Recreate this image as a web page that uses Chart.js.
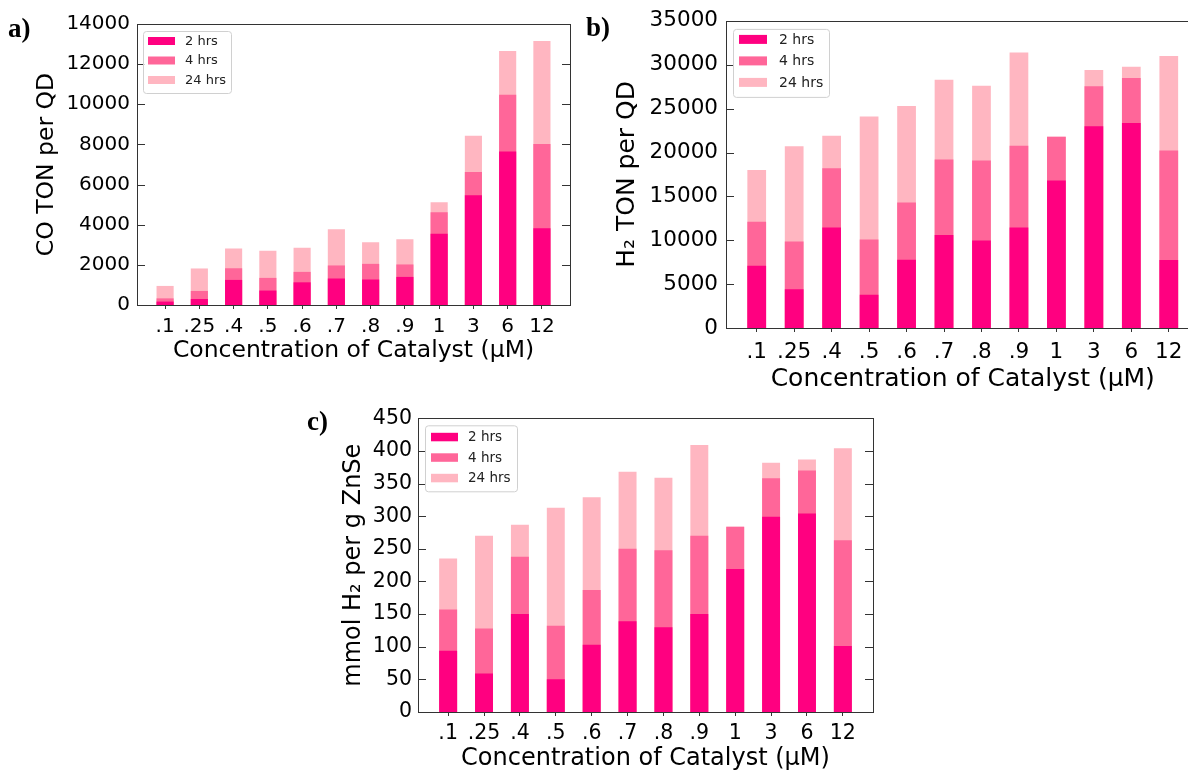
<!DOCTYPE html>
<html>
<head>
<meta charset="utf-8">
<script src="https://cdn.jsdelivr.net/npm/chart.js"></script>
<style>
  body { margin: 0; background: #fff; overflow: hidden; }
  #wrap { position: relative; width: 1188px; height: 773px; overflow: hidden; }
  #wrap canvas { position: absolute; }
  .tag { position: absolute; font: bold 27px "Liberation Serif", "Times New Roman", serif; line-height: 1; color: #000; }
</style>
</head>
<body>
<div id="wrap">
  <canvas id="chartA" width="590" height="365" style="left:0;top:0"></canvas>
  <canvas id="chartB" width="624" height="394" style="left:580px;top:0"></canvas>
  <canvas id="chartC" width="600" height="373" style="left:300px;top:400px"></canvas>
  <div class="tag" style="left:8px;top:15px">a)</div>
  <div class="tag" style="left:586px;top:14px">b)</div>
  <div class="tag" style="left:307px;top:408px">c)</div>
</div>
<script>
const concentrations = ['.1', '.25', '.4', '.5', '.6', '.7', '.8', '.9', '1', '3', '6', '12'];
const seriesNames = ['2 hrs', '4 hrs', '24 hrs'];
const seriesColors = ['#ff0080', '#ff6699', '#ffb6c1'];

// a) CO TON per QD, cumulative value reached after each time
const coTon2h  = [170, 300, 1250, 720, 1130, 1320, 1270, 1400, 3550, 5470, 7650, 3820];
const coTon4h  = [330, 700, 1830, 1350, 1650, 1970, 2050, 2020, 4620, 6630, 10480, 8020];
const coTon24h = [950, 1820, 2820, 2700, 2850, 3780, 3130, 3280, 5120, 8430, 12650, 13150];

// b) H2 TON per QD
const h2Ton2h  = [7100, 4430, 11450, 3780, 7790, 10600, 9960, 11450, 16800, 23000, 23360, 7750];
const h2Ton4h  = [12100, 9850, 18200, 10100, 14300, 19200, 19100, 20760, 21800, 27550, 28500, 20230];
const h2Ton24h = [18000, 20700, 21900, 24100, 25300, 28300, 27600, 31400, 21800, 29400, 29770, 31000];

// c) mmol H2 per g ZnSe
const h2Mmol2h  = [94, 59, 150, 50, 103, 139, 130, 150, 219, 299, 304, 101];
const h2Mmol4h  = [157, 128, 238, 132, 187, 250, 248, 270, 284, 358, 370, 263];
const h2Mmol24h = [235, 270, 287, 313, 329, 368, 359, 409, 284, 382, 387, 404];

const FONT = 'DejaVu Sans';

// box around the plot + inward y ticks on both sides
const framePlugin = {
  id: 'frame',
  afterDatasetsDraw(chart) {
    const { ctx, chartArea: a, scales: { y } } = chart;
    ctx.save();
    ctx.strokeStyle = '#333';
    ctx.lineWidth = 1;
    ctx.beginPath();
    y.ticks.forEach(t => {
      const py = Math.round(y.getPixelForValue(t.value)) + 0.5;
      ctx.moveTo(a.left, py); ctx.lineTo(a.left + 8, py);
      ctx.moveTo(a.right, py); ctx.lineTo(a.right - 8, py);
    });
    ctx.stroke();
    ctx.strokeRect(Math.round(a.left) + 0.5, Math.round(a.top) + 0.5,
      Math.round(a.right - a.left), Math.round(a.bottom - a.top));
    ctx.restore();
  }
};

// legend drawn inside the plot, upper left
const boxLegendPlugin = {
  id: 'boxLegend',
  afterDraw(chart, args, o) {
    const { ctx, chartArea: a } = chart;
    const x0 = a.left + o.dx, y0 = a.top + o.dy;
    ctx.save();
    ctx.fillStyle = 'rgba(255,255,255,0.8)';
    ctx.strokeStyle = '#d0d0d0';
    ctx.lineWidth = 1;
    ctx.beginPath();
    ctx.roundRect(x0 + 0.5, y0 + 0.5, o.w, o.h, 3);
    ctx.fill();
    ctx.stroke();
    ctx.font = o.fs + 'px "' + FONT + '"';
    ctx.textBaseline = 'middle';
    chart.data.datasets.forEach((ds, k) => {
      const ry = y0 + o.top + k * o.row;
      ctx.fillStyle = ds.backgroundColor;
      ctx.fillRect(x0 + o.left, ry, o.bw, o.bh);
      ctx.fillStyle = '#222';
      ctx.fillText(ds.label, x0 + o.text, ry + o.bh / 2 + 0.5);
    });
    ctx.restore();
  }
};

function makePanel(canvasId, p) {
  return new Chart(document.getElementById(canvasId), {
    type: 'bar',
    data: {
      datasets: p.series.map((vals, k) => ({
        label: seriesNames[k],
        data: vals.map((v, i) => ({ x: i, y: v })),
        backgroundColor: seriesColors[k],
        grouped: false,
        barPercentage: 0.5,
        categoryPercentage: 1
      }))
    },
    options: {
      responsive: false,
      animation: false,
      layout: { padding: p.padding },
      plugins: {
        legend: { display: false },
        tooltip: { enabled: false },
        boxLegend: p.legend
      },
      scales: {
        x: {
          type: 'linear',
          offset: false,
          min: -p.margin,
          max: concentrations.length - 1 + p.margin,
          afterBuildTicks: s => { s.ticks = concentrations.map((c, i) => ({ value: i })); },
          afterFit: s => { s.height = p.xHeight; },
          ticks: {
            callback: v => concentrations[v],
            autoSkip: false, maxRotation: 0,
            padding: p.xPad,
            color: '#000',
            font: { family: FONT, size: p.tickSize }
          },
          grid: { display: true, offset: false, drawOnChartArea: false, drawTicks: true, tickLength: 4, color: '#333' },
          border: { display: false },
          title: {
            display: true,
            text: 'Concentration of Catalyst (µM)',
            color: '#000',
            padding: 0,
            font: { family: FONT, size: p.titleSize }
          }
        },
        y: {
          min: 0,
          max: p.yMax,
          afterFit: s => { s.width = p.yWidth; },
          ticks: {
            stepSize: p.yStep,
            callback: v => String(v),
            padding: p.yPad,
            color: '#000',
            font: { family: FONT, size: p.tickSize }
          },
          grid: { display: false, drawTicks: false },
          border: { display: false },
          title: {
            display: true,
            text: p.yTitle,
            color: '#000',
            padding: { top: p.yTitlePad, bottom: 0 },
            font: { family: FONT, size: p.yTitleSize }
          }
        }
      }
    },
    plugins: [framePlugin, boxLegendPlugin]
  });
}

makePanel('chartA', {
  series: [coTon2h, coTon4h, coTon24h],
  yMax: 14000, yStep: 2000, yTitle: 'CO TON per QD',
  padding: { top: 24, right: 20, left: 0, bottom: 0 },
  margin: 0.82, yWidth: 137, xHeight: 60,
  tickSize: 20, titleSize: 23.5, yTitleSize: 23.5, yTitlePad: 33,
  xPad: 6, yPad: 7,
  legend: { dx: 6, dy: 7, w: 88, h: 62, left: 5, top: 6, row: 19.5, bw: 27, bh: 8, text: 42, fs: 13 }
});

makePanel('chartB', {
  series: [h2Ton2h, h2Ton4h, h2Ton24h],
  yMax: 35000, yStep: 5000, yTitle: 'H₂ TON per QD',
  padding: { top: 20, right: 4.5, left: 0, bottom: 0 },
  margin: 0.82, yWidth: 146, xHeight: 66,
  tickSize: 21.5, titleSize: 25, yTitleSize: 25, yTitlePad: 32.5,
  xPad: 8, yPad: 8,
  legend: { dx: 7, dy: 8, w: 96, h: 68, left: 6, top: 6, row: 21.5, bw: 28, bh: 9, text: 46, fs: 14 }
});

makePanel('chartC', {
  series: [h2Mmol2h, h2Mmol4h, h2Mmol24h],
  yMax: 450, yStep: 50, yTitle: 'mmol H₂ per g ZnSe',
  padding: { top: 16, right: 27, left: 0, bottom: 0 },
  margin: 0.84, yWidth: 118, xHeight: 61,
  tickSize: 20.5, titleSize: 24, yTitleSize: 24, yTitlePad: 39.6,
  xPad: 5, yPad: 6,
  legend: { dx: 7, dy: 7, w: 92, h: 66, left: 6, top: 7.5, row: 20.5, bw: 27, bh: 8.5, text: 43, fs: 13.5 }
});
</script>
</body>
</html>
